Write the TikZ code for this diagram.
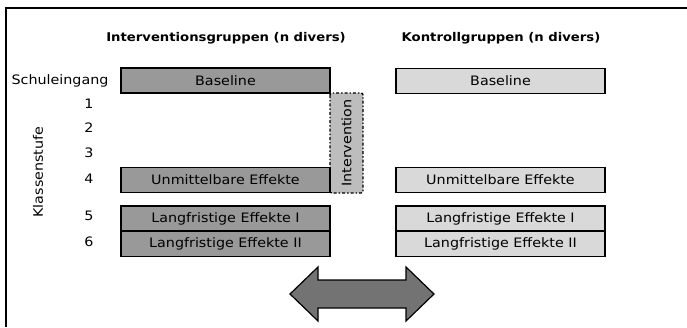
\documentclass[tikz,border=0pt]{standalone}
\usepackage{fontspec}
\setmainfont[FakeStretch=1.1]{DejaVu Sans}
\usepackage{xcolor}
\usepackage{tikz}

\definecolor{igrau}{gray}{0.60}
\definecolor{kgrau}{gray}{0.85}
\definecolor{intgrau}{gray}{0.74}
\definecolor{pfeilgrau}{gray}{0.45}

\begin{document}
\begin{tikzpicture}[x=1pt,y=-1pt,
  font=\fontsize{13}{15}\selectfont,
  gruppe/.style={draw,line width=1.4pt,minimum width=209pt,minimum height=25pt,inner sep=0pt},
  igruppe/.style={gruppe,fill=igrau},
  kgruppe/.style={gruppe,fill=kgrau},
  kopf/.style={font=\fontsize{12}{14}\selectfont\bfseries}]
\useasboundingbox (0,0) rectangle (687,327);
\fill[white] (0,0) rectangle (687,327);
\draw[line width=2pt] (6,327) -- (6,8) -- (687,8);

\node[kopf] (ikopf) at (226,38) {Interventionsgruppen (n divers)};
\node[kopf] (kkopf) at (501,38) {Kontrollgruppen (n divers)};

\node[draw,line width=1.4pt,dash dot,rounded corners=2pt,fill=intgrau,
  minimum width=100pt,minimum height=33pt,inner sep=0pt,rotate=90] (interv) at (346.5,143) {Intervention};

\node[igruppe] (ibase) at (225.5,80.5) {Baseline};
\node[igruppe] (iunm) at (225.5,180) {Unmittelbare Effekte};
\node[igruppe] (ilang1) at (225.5,218.5) {Langfristige Effekte I};
\node[igruppe] (ilang2) at (225.5,244) {Langfristige Effekte II};

\node[kgruppe] (kbase) at (500.5,81) {Baseline};
\node[kgruppe] (kunm) at (500.5,180) {Unmittelbare Effekte};
\node[kgruppe] (klang1) at (500.5,218.5) {Langfristige Effekte I};
\node[kgruppe] (klang2) at (500.5,244) {Langfristige Effekte II};

\node (schule) at (60,81) {Schuleingang};
\node (s1) at (89,104) {1};
\node (s2) at (89,128) {2};
\node (s3) at (89,153) {3};
\node (s4) at (89,179) {4};
\node (s5) at (89,216) {5};
\node (s6) at (89,242) {6};
\node[rotate=90] (stufe) at (38,172) {Klassenstufe};

\filldraw[fill=pfeilgrau,draw=black,line width=1.2pt]
  (290,294) -- (318,267) -- (318,280) -- (406,280) -- (406,267) -- (434,294)
  -- (406,321) -- (406,308) -- (318,308) -- (318,321) -- cycle;
\end{tikzpicture}
\end{document}
